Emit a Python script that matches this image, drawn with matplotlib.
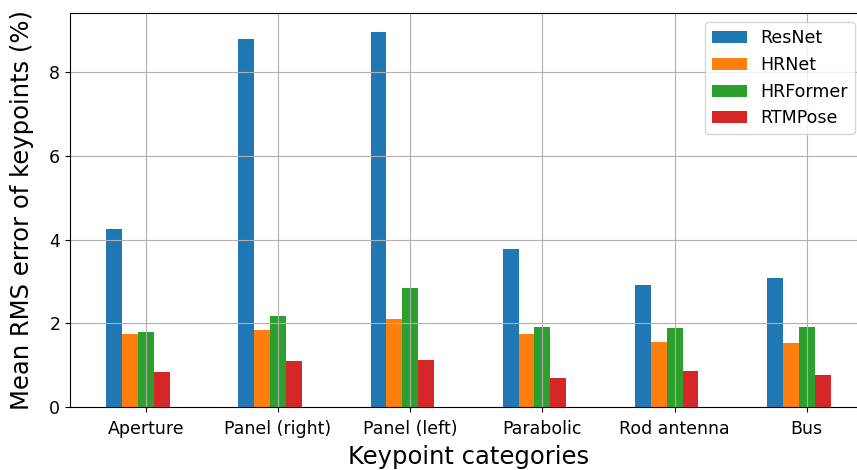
import matplotlib
matplotlib.use("Agg")
import matplotlib.pyplot as plt
import numpy as np

CATEGORIES = ["Aperture", "Panel (right)", "Panel (left)", "Parabolic", "Rod antenna", "Bus"]
MODELS = ["ResNet", "HRNet", "HRFormer", "RTMPose"]

RESNET = [4.25, 8.79, 8.97, 3.78, 2.92, 3.08]
HRNET = [1.75, 1.83, 2.11, 1.74, 1.56, 1.54]
HRFORMER = [1.80, 2.18, 2.85, 1.91, 1.89, 1.91]
RTMPOSE = [0.83, 1.11, 1.13, 0.70, 0.86, 0.77]

COLORS = ["#1f77b4", "#ff7f0e", "#2ca02c", "#d62728"]


def main():
    fig = plt.figure(figsize=(8.57, 4.70), dpi=100)
    ax = fig.add_axes([0.0817, 0.134, 0.9297, 0.8383])

    x = np.arange(len(CATEGORIES))
    w = 0.12
    series = [RESNET, HRNET, HRFORMER, RTMPOSE]
    for k, (name, vals) in enumerate(zip(MODELS, series)):
        ax.bar(x + (k - 2) * w, vals, width=w, color=COLORS[k], label=name)

    ax.set_xticks(x)
    ax.set_xticklabels(CATEGORIES, fontsize=12.5)
    ax.tick_params(axis="x", pad=6)
    ax.tick_params(axis="y", labelsize=12.5)
    ax.set_xlabel("Keypoint categories", fontsize=17.5, labelpad=5)
    ax.set_ylabel("Mean RMS error of keypoints (%)", fontsize=17.5, labelpad=11)
    ax.grid(True)
    ax.legend(loc="upper right", fontsize=12.5, bbox_to_anchor=(0.996, 0.998))

    fig.savefig("out.png", dpi=100)
    plt.close(fig)


if __name__ == "__main__":
    main()
